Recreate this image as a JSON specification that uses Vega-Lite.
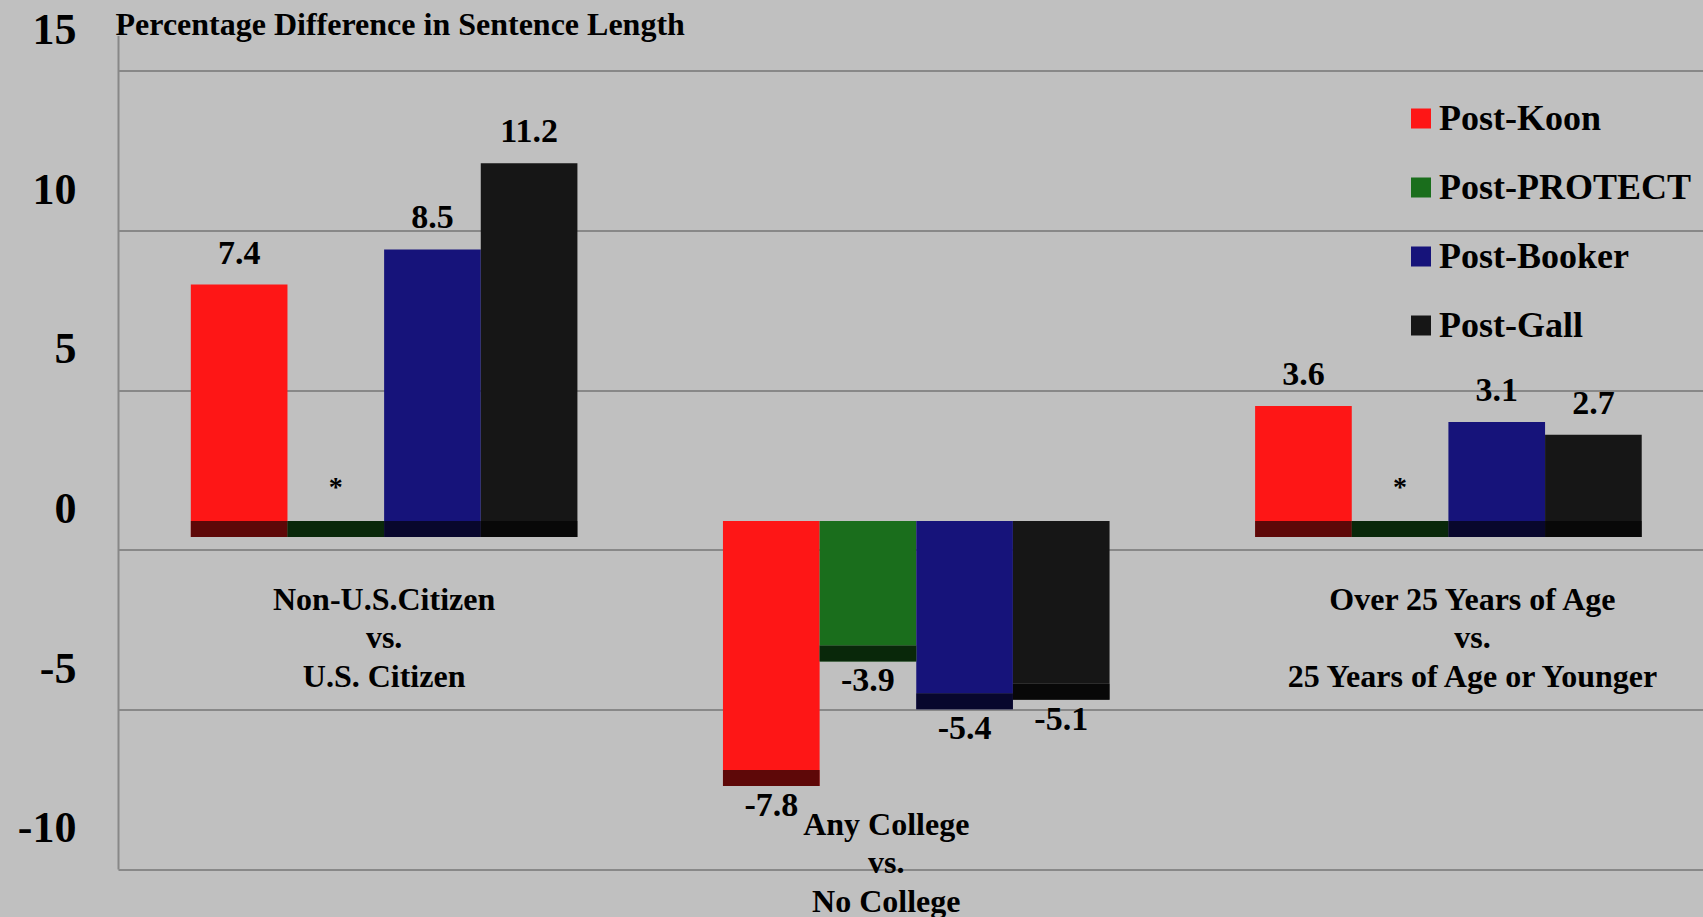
{
  "$schema": "https://vega.github.io/schema/vega-lite/v6.json",
  "width": 1585,
  "height": 833.5,
  "autosize": "none",
  "padding": {"left": 118, "top": 35.5, "right": 0, "bottom": 48},
  "background": "#c0c0c0",
  "config": {"view": {"stroke": null}, "font": "Liberation Serif"},
  "data": {"values": [
    {"comparison": "Non-U.S.Citizen|vs.|U.S. Citizen", "period": "Post-Koon", "value": 7.4, "label": "7.4"},
    {"comparison": "Non-U.S.Citizen|vs.|U.S. Citizen", "period": "Post-PROTECT", "value": 0, "label": "*"},
    {"comparison": "Non-U.S.Citizen|vs.|U.S. Citizen", "period": "Post-Booker", "value": 8.5, "label": "8.5"},
    {"comparison": "Non-U.S.Citizen|vs.|U.S. Citizen", "period": "Post-Gall", "value": 11.2, "label": "11.2"},
    {"comparison": "Any College|vs.|No College", "period": "Post-Koon", "value": -7.8, "label": "-7.8"},
    {"comparison": "Any College|vs.|No College", "period": "Post-PROTECT", "value": -3.9, "label": "-3.9"},
    {"comparison": "Any College|vs.|No College", "period": "Post-Booker", "value": -5.4, "label": "-5.4"},
    {"comparison": "Any College|vs.|No College", "period": "Post-Gall", "value": -5.1, "label": "-5.1"},
    {"comparison": "Over 25 Years of Age|vs.|25 Years of Age or Younger", "period": "Post-Koon", "value": 3.6, "label": "3.6"},
    {"comparison": "Over 25 Years of Age|vs.|25 Years of Age or Younger", "period": "Post-PROTECT", "value": 0, "label": "*"},
    {"comparison": "Over 25 Years of Age|vs.|25 Years of Age or Younger", "period": "Post-Booker", "value": 3.1, "label": "3.1"},
    {"comparison": "Over 25 Years of Age|vs.|25 Years of Age or Younger", "period": "Post-Gall", "value": 2.7, "label": "2.7"}
  ]},
  "encoding": {
    "x": {
      "field": "comparison", "type": "nominal", "sort": null,
      "scale": {"paddingInner": 0.2735, "paddingOuter": 0.126, "align": 0.543},
      "axis": {
        "orient": "bottom", "offset": -285, "title": null,
        "labelExpr": "split(datum.label, '|')",
        "labelFont": "Liberation Serif", "labelFontSize": 32, "labelFontWeight": "bold", "labelColor": "black",
        "labelLineHeight": 38.5, "labelBaseline": "top", "labelAngle": 0, "labelLimit": 0, "labelOverlap": false,
        "labelPadding": {"condition": {"test": "datum.value === 'Any College|vs.|No College'", "value": 225}, "value": 0},
        "labelOffset": {"condition": [
          {"test": "datum.value === 'Any College|vs.|No College'", "value": -30},
          {"test": "datum.value === 'Over 25 Years of Age|vs.|25 Years of Age or Younger'", "value": 24}
        ], "value": 0},
        "domain": false, "ticks": false, "grid": false
      }
    },
    "xOffset": {"field": "period", "type": "nominal", "sort": ["Post-Koon", "Post-PROTECT", "Post-Booker", "Post-Gall"], "scale": {"paddingInner": 0, "paddingOuter": 0}},
    "y": {
      "field": "value", "type": "quantitative", "title": "Percentage Difference in Sentence Length",
      "scale": {"domain": [-10.9, 15.2], "nice": false, "zero": false},
      "axis": {
        "values": [-10, -5, 0, 5, 10, 15], "tickOffset": 28.8, "labelOffset": -40.3,
        "labelExpr": "datum.value + ''",
        "grid": true, "gridColor": "#888888", "gridWidth": 2,
        "domainColor": "#888888", "domainWidth": 2, "ticks": false,
        "labelFont": "Liberation Serif", "labelFontSize": 44, "labelFontWeight": "bold", "labelColor": "black",
        "labelPadding": 42,
        "titleAngle": 0, "titleX": -3, "titleY": -1, "titleAlign": "left", "titleBaseline": "alphabetic",
        "titleFont": "Liberation Serif", "titleFontSize": 32, "titleFontWeight": "bold", "titleColor": "black"
      }
    }
  },
  "layer": [
    {
      "mark": {"type": "bar"},
      "encoding": {
        "y2": {"datum": 0},
        "color": {
          "field": "period", "type": "nominal",
          "scale": {"domain": ["Post-Koon", "Post-PROTECT", "Post-Booker", "Post-Gall"], "range": ["#fe1616", "#1a6e1c", "#16137a", "#161616"]},
          "legend": {
            "orient": "none", "legendX": 1285, "legendY": 65, "title": null, "padding": 0,
            "symbolType": "square", "symbolSize": 400, "symbolStrokeWidth": 0, "symbolOpacity": 1,
            "labelFont": "Liberation Serif", "labelFontSize": 36, "labelFontWeight": "bold", "labelColor": "black",
            "labelOffset": 0, "rowPadding": 33, "labelLimit": 0
          }
        }
      }
    },
    {
      "transform": [
        {"calculate": "min(datum.value, 0)", "as": "s0"},
        {"calculate": "min(datum.value, 0) - 0.5", "as": "s1"}
      ],
      "mark": {"type": "bar"},
      "encoding": {
        "y": {"field": "s0", "type": "quantitative"},
        "y2": {"field": "s1"},
        "color": {"field": "period", "type": "nominal", "legend": null}
      }
    },
    {
      "transform": [
        {"calculate": "min(datum.value, 0)", "as": "s0"},
        {"calculate": "min(datum.value, 0) - 0.5", "as": "s1"}
      ],
      "mark": {"type": "bar", "color": "black", "opacity": 0.63},
      "encoding": {
        "y": {"field": "s0", "type": "quantitative"},
        "y2": {"field": "s1"}
      }
    },
    {
      "transform": [{"filter": "datum.value > 0"}],
      "mark": {"type": "text", "baseline": "alphabetic", "dy": -21, "font": "Liberation Serif", "fontSize": 34, "fontWeight": "bold", "color": "black"},
      "encoding": {
        "text": {"field": "label"}
      }
    },
    {
      "transform": [{"filter": "datum.value < 0"}],
      "mark": {"type": "text", "baseline": "alphabetic", "dy": 46, "font": "Liberation Serif", "fontSize": 34, "fontWeight": "bold", "color": "black"},
      "encoding": {
        "text": {"field": "label"}
      }
    },
    {
      "transform": [{"filter": "datum.value == 0"}],
      "mark": {"type": "text", "baseline": "alphabetic", "dy": -25, "font": "Liberation Serif", "fontSize": 28, "fontWeight": "bold", "color": "black"},
      "encoding": {
        "text": {"field": "label"}
      }
    }
  ]
}
